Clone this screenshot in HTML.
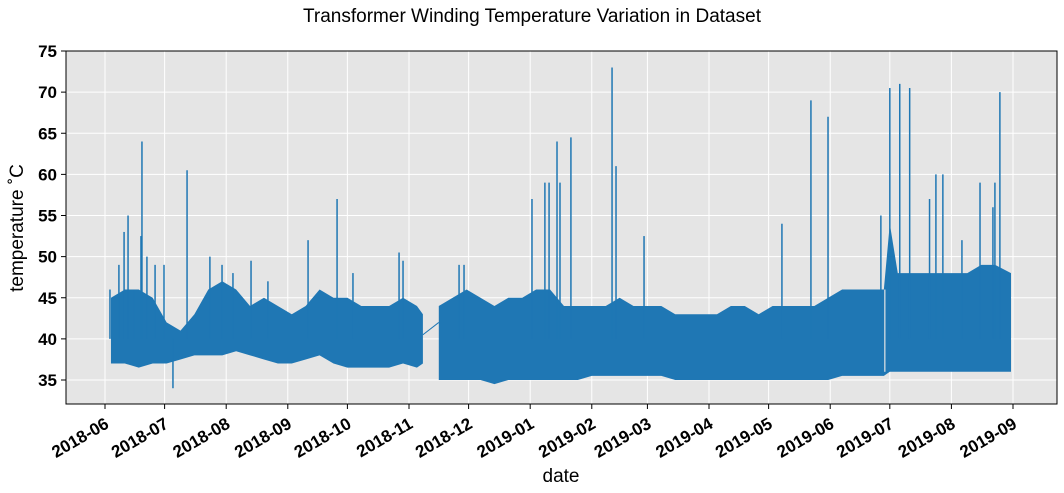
<!DOCTYPE html>
<html><head><meta charset="utf-8"><style>
body{margin:0;background:#fff;}
svg{display:block;font-family:"Liberation Sans",sans-serif;}
</style></head><body>
<svg id="chart" width="1064" height="493">
<text x="532" y="22" text-anchor="middle" font-size="19">Transformer Winding Temperature Variation in Dataset</text>
<rect x="66" y="51" width="991" height="353" fill="#e5e5e5"/>
<g id="grid"></g><g id="marks"></g>
<rect x="66" y="51" width="991" height="353" fill="none" stroke="#000" stroke-width="1"/>
<g id="axes"></g>
<text x="561" y="482" text-anchor="middle" font-size="19">date</text>
<text transform="translate(23,228) rotate(-90)" text-anchor="middle" font-size="19">temperature ˚C</text>
</svg>
<script>
// days since 2018-06-01
const seg1Days=[3,10,17,24,31,38,45,52,59,66,73,80,87,94,101,108,115,122,129,136,143,150,157,160];
const seg1Lo=[37,37,36.5,37,37,37.5,38,38,38,38.5,38,37.5,37,37,37.5,38,37,36.5,36.5,36.5,36.5,37,36.5,37];
const seg1Hi=[45,46,46,45,42,41,43,46,47,46,44,45,44,43,44,46,45,45,44,44,44,45,44,43];
const seg2Days=[168,175,182,189,196,203,210,217,224,231,238,245,252,259,266,273,280,287,294,301,308,315,322,329,336,343,350,357,364,371,378,385,392,395,399,406,413,420,427,434,441,448,456];
const seg2Lo=[35,35,35,35,34.5,35,35,35,35,35,35,35.5,35.5,35.5,35.5,35.5,35.5,35,35,35,35,35,35,35,35,35,35,35,35,35.5,35.5,35.5,35.5,36,36,36,36,36,36,36,36,36,36];
const seg2Hi=[44,45,46,45,44,45,45,46,46,44,44,44,44,45,44,44,44,43,43,43,43,44,44,43,44,44,44,44,45,46,46,46,46,54,48,48,48,48,48,48,49,49,48];
const spikeDays=[2.5,7,9.6,11.6,14.6,18.1,18.6,21.1,25.2,29.7,34.2,41.3,52.8,58.9,64.4,73.5,82,102.2,116.8,124.8,148,150,178.2,180.7,214.9,221.4,223.5,227.5,229,234.5,255.2,257.2,271.3,340.7,355.3,363.9,390.5,395,400,405,415,418.2,421.7,431.3,440.4,446.9,447.9,450.4];
const spikeVals=[46,49,53,55,46,52.5,64,50,49,49,34,60.5,50,49,48,49.5,47,52,57,48,50.5,49.5,49,49,57,59,59,64,59,64.5,73,61,52.5,54,69,67,55,70.5,71,70.5,57,60,60,52,59,56,59,70];
const xTickLabels=["2018-06","2018-07","2018-08","2018-09","2018-10","2018-11","2018-12","2019-01","2019-02","2019-03","2019-04","2019-05","2019-06","2019-07","2019-08","2019-09"];
const xTickDays=[0,30,61,92,122,153,183,214,245,273,304,334,365,395,426,457];
const yTicks=[35,40,45,50,55,60,65,70,75];

const X=d=>105+d*(908/457);
const Y=v=>51+(75-v)*8.225;
const NS="http://www.w3.org/2000/svg";
function mk(tag,attrs,parent){const e=document.createElementNS(NS,tag);for(const k in attrs)e.setAttribute(k,attrs[k]);parent.appendChild(e);return e;}
const grid=document.getElementById('grid'),marks=document.getElementById('marks'),axes=document.getElementById('axes');
yTicks.forEach(v=>{
  const g=mk('line',{x1:66,x2:1057,y1:Y(v),y2:Y(v),stroke:'#fff','stroke-width':1},grid);
  
  
  mk('line',{x1:61,x2:66,y1:Y(v),y2:Y(v),stroke:'#000'},axes);
  const t=mk('text',{x:57,y:Y(v)+6,'text-anchor':'end','font-size':17,'font-weight':'bold'},axes);
  t.textContent=v;
  
  
});
xTickDays.forEach((d,i)=>{
  const x=X(d);
  const g=mk('line',{x1:x,x2:x,y1:51,y2:404,stroke:'#fff','stroke-width':1},grid);
  
  
  mk('line',{x1:x,x2:x,y1:404,y2:409,stroke:'#000'},axes);
  const t=mk('text',{transform:`translate(${x+5},${427}) rotate(-30)`,'text-anchor':'end','font-size':17,'font-weight':'bold'},axes);
  t.textContent=xTickLabels[i];
  
  
});
function band(days,lo,hi,name){
  let p=days.map((d,i)=>X(d)+','+Y(hi[i]));
  for(let i=days.length-1;i>=0;i--)p.push(X(days[i])+','+Y(lo[i]));
  const e=mk('polygon',{points:p.join(' '),fill:'#1f77b4'},marks);
  
  
}
band(seg1Days,seg1Lo,seg1Hi,'temperature-band-2018');
band(seg2Days,seg2Lo,seg2Hi,'temperature-band-2019');
const gap=mk('line',{x1:X(seg1Days[seg1Days.length-1]),y1:Y(40.5),x2:X(seg2Days[0]),y2:Y(42),stroke:'#1f77b4','stroke-width':1},marks);


spikeDays.forEach((d,i)=>{
  const s=mk('line',{x1:X(d),x2:X(d),y1:Y(40),y2:Y(spikeVals[i]),stroke:'#1f77b4','stroke-width':1.5},marks);
  
  
});
const dip=mk('line',{x1:X(392.5),x2:X(392.5),y1:Y(36),y2:Y(46),stroke:'#e5e5e5','stroke-width':1.2},marks);


</script>
</body></html>
